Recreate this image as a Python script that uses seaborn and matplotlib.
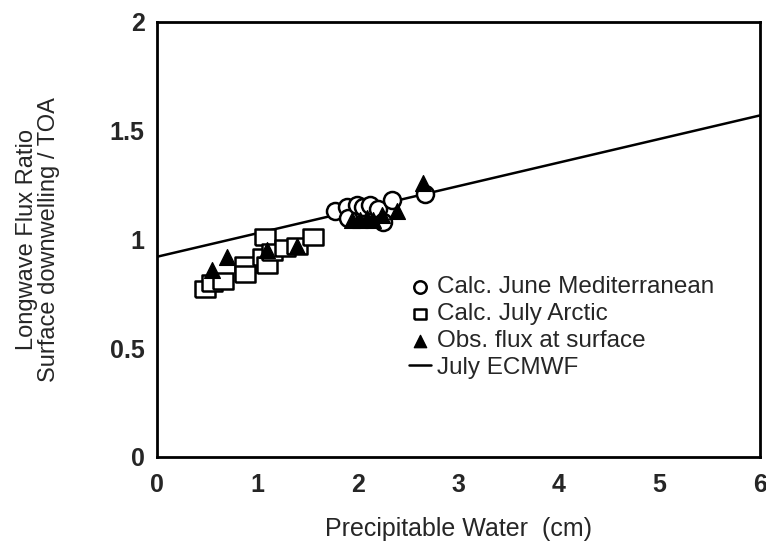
import matplotlib
matplotlib.use("Agg")
import matplotlib.pyplot as plt
import seaborn as sns
import pandas as pd
from matplotlib.ticker import MultipleLocator

# --- data ---
med_x = [1.77, 1.89, 1.90, 1.99, 2.05, 2.12, 2.20, 2.25, 2.34, 2.67]
med_y = [1.13, 1.15, 1.10, 1.16, 1.15, 1.16, 1.14, 1.08, 1.18, 1.21]

arc_x = [0.48, 0.55, 0.66, 0.88, 0.88, 1.05, 1.07, 1.09, 1.14, 1.27, 1.39, 1.55]
arc_y = [0.77, 0.80, 0.81, 0.88, 0.84, 0.92, 1.01, 0.88, 0.94, 0.96, 0.97, 1.01]

obs_x = [0.55, 0.70, 1.09, 1.39, 1.94, 2.02, 2.09, 2.15, 2.24, 2.39, 2.65]
obs_y = [0.86, 0.92, 0.95, 0.97, 1.09, 1.09, 1.10, 1.09, 1.11, 1.13, 1.26]

ecmwf_x = [0.0, 6.0]
ecmwf_y = [0.92, 1.57]

x_ticks = [0, 1, 2, 3, 4, 5, 6]
y_ticks = [0, 0.5, 1, 1.5, 2]
y_tick_labels = ["0", "0.5", "1", "1.5", "2"]

sns.set_theme(style="white")
plt.rcParams["font.family"] = ["Liberation Sans", "DejaVu Sans"]

fig = plt.figure(figsize=(7.66, 5.49), dpi=100)
ax = fig.add_axes([0.205, 0.168, 0.787, 0.792])

rect = [(-1, -0.8), (1, -0.8), (1, 0.8), (-1, 0.8), (-1, -0.8)]

sns.scatterplot(x=med_x, y=med_y, ax=ax, marker="o", s=150, facecolor="white",
                edgecolor="black", linewidth=1.8, zorder=3, label="Calc. June Mediterranean")
sns.scatterplot(x=arc_x, y=arc_y, ax=ax, marker=rect, s=190, facecolor="white",
                edgecolor="black", linewidth=1.8, zorder=3, label="Calc. July Arctic")
sns.scatterplot(x=obs_x, y=obs_y, ax=ax, marker="^", s=130, color="black",
                edgecolor="black", zorder=4, label="Obs. flux at surface")
sns.lineplot(x=ecmwf_x, y=ecmwf_y, ax=ax, color="black", linewidth=1.8,
             zorder=2, label="July ECMWF")

ax.set_xlim(0, 6)
ax.set_ylim(0, 2)
ax.set_xticks(x_ticks)
ax.set_xticklabels([str(t) for t in x_ticks])
ax.set_yticks(y_ticks)
ax.set_yticklabels(y_tick_labels)
ax.xaxis.set_minor_locator(MultipleLocator(0.5))
ax.yaxis.set_minor_locator(MultipleLocator(0.1))
ax.tick_params(which="both", direction="in", top=False, right=False, color="black")
ax.tick_params(which="major", length=7, width=1.3, labelsize=18)
ax.tick_params(axis="x", which="major", pad=12)
ax.tick_params(axis="y", which="major", pad=9)
ax.tick_params(which="minor", length=4, width=1.0)
for lab in ax.get_xticklabels() + ax.get_yticklabels():
    lab.set_fontweight("bold")
for sp in ax.spines.values():
    sp.set_color("black")
    sp.set_linewidth(2.0)

ax.set_xlabel("Precipitable Water  (cm)", fontsize=18, labelpad=14)
ax.set_ylabel("Longwave Flux Ratio\nSurface downwelling / TOA", fontsize=17,
              labelpad=36, linespacing=1.0)

leg = ax.legend(loc="upper left", bbox_to_anchor=(0.418, 0.415), frameon=False,
                fontsize=17.5, handlelength=0.9, handletextpad=0.25, labelspacing=0.2,
                borderaxespad=0.0, borderpad=0.0)
for h in leg.legend_handles:
    try:
        h.set_sizes([80])
    except Exception:
        pass

fig.savefig("out.png", dpi=100, facecolor="white")
